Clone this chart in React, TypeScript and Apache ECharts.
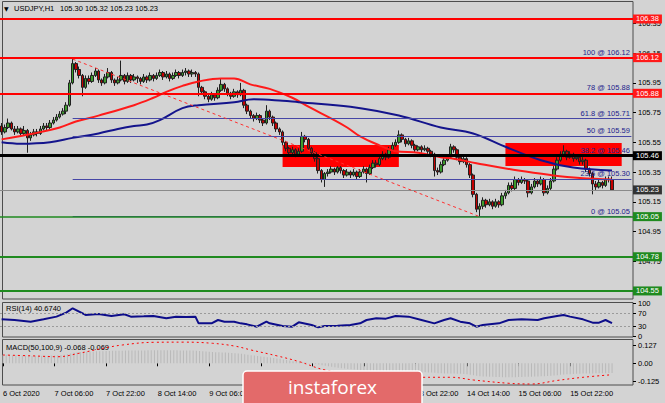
import React, { useEffect, useRef } from 'react';
import * as echarts from 'echarts';

const FONT = "'Liberation Sans', Arial, sans-serif";

// ---- price data (H1 candles, open = previous close) ----
const firstOpen = 105.66;
const closes = [
  105.62,105.65,105.68,105.64,105.62,105.64,105.61,105.63,105.58,105.60,
  105.62,105.61,105.64,105.66,105.65,105.68,105.70,105.72,105.74,105.76,
  105.80,105.95,106.08,106.04,106.00,105.92,105.98,105.96,106.00,106.03,
  105.97,105.95,105.99,106.02,105.97,105.95,105.97,106.00,105.96,106.00,
  105.97,105.99,105.98,105.96,105.99,105.97,106.00,105.98,106.00,106.02,
  105.99,106.01,105.98,106.00,106.02,106.00,106.02,106.03,106.01,106.02,
  106.01,105.92,105.89,105.86,105.84,105.87,105.85,105.90,105.94,105.91,
  105.88,105.86,105.89,105.87,105.90,105.80,105.76,105.73,105.71,105.73,
  105.70,105.68,105.76,105.72,105.68,105.64,105.62,105.55,105.51,105.48,
  105.50,105.47,105.49,105.59,105.57,105.51,105.48,105.44,105.36,105.30,
  105.34,105.35,105.37,105.35,105.38,105.36,105.33,105.35,105.33,105.35,
  105.32,105.35,105.37,105.34,105.38,105.41,105.40,105.44,105.47,105.45,
  105.50,105.53,105.55,105.60,105.57,105.54,105.56,105.53,105.50,105.52,
  105.50,105.51,105.49,105.47,105.36,105.35,105.40,105.43,105.45,105.52,
  105.50,105.45,105.42,105.44,105.40,105.33,105.20,105.10,105.12,105.16,
  105.13,105.15,105.12,105.15,105.13,105.19,105.21,105.26,105.24,105.30,
  105.28,105.30,105.29,105.21,105.25,105.29,105.27,105.30,105.21,105.24,
  105.29,105.37,105.43,105.47,105.49,105.45,105.47,105.44,105.45,105.42,
  105.43,105.37,105.34,105.27,105.25,105.28,105.26,105.30,105.30,105.23,
];
const lows = [
  105.60,105.61,105.64,105.63,105.60,105.61,105.59,105.60,105.48,105.56,
  105.59,105.59,105.60,105.63,105.63,105.64,105.67,105.69,105.71,105.73,
  105.74,105.79,105.94,106.02,105.98,105.86,105.91,105.94,105.95,105.99,
  105.95,105.93,105.94,105.98,105.95,105.93,105.94,105.96,105.94,105.95,
  105.95,105.96,105.95,105.94,105.95,105.95,105.96,105.96,105.97,105.99,
  105.97,105.98,105.96,105.97,105.99,105.98,105.99,106.00,105.99,105.99,
  105.99,105.86,105.87,105.84,105.82,105.83,105.83,105.84,105.89,105.89,
  105.86,105.84,105.85,105.85,105.86,105.78,105.74,105.71,105.69,105.70,
  105.68,105.66,105.67,105.70,105.66,105.62,105.60,105.53,105.49,105.46,
  105.46,105.45,105.46,105.48,105.55,105.50,105.46,105.42,105.34,105.28,
  105.25,105.32,105.34,105.33,105.34,105.34,105.31,105.32,105.31,105.32,
  105.30,105.31,105.34,105.28,105.33,105.37,105.38,105.39,105.43,105.43,
  105.44,105.49,105.52,105.54,105.55,105.52,105.53,105.51,105.48,105.49,
  105.48,105.49,105.47,105.45,105.32,105.33,105.34,105.39,105.42,105.44,
  105.48,105.43,105.40,105.41,105.38,105.31,105.18,105.08,105.05,105.10,
  105.11,105.12,105.10,105.11,105.11,105.12,105.17,105.20,105.22,105.23,
  105.26,105.27,105.27,105.18,105.20,105.24,105.25,105.26,105.19,105.20,
  105.23,105.28,105.36,105.42,105.45,105.43,105.44,105.42,105.43,105.40,
  105.40,105.35,105.32,105.20,105.23,105.24,105.24,105.25,105.28,105.23,
];
const highs = [
  105.68,105.67,105.71,105.69,105.66,105.66,105.65,105.66,105.64,105.62,
  105.64,105.64,105.66,105.68,105.68,105.70,105.72,105.74,105.76,105.78,
  105.82,105.97,106.11,106.09,106.06,106.01,106.00,106.00,106.02,106.05,
  106.04,105.98,106.01,106.05,106.03,105.98,105.99,106.10,106.01,106.02,
  106.01,106.01,106.00,105.99,106.01,106.00,106.02,106.01,106.02,106.04,
  106.03,106.03,106.02,106.02,106.04,106.03,106.04,106.05,106.04,106.04,
  106.03,106.02,105.93,105.90,105.87,105.89,105.88,105.92,105.98,105.95,
  105.92,105.89,105.91,105.90,105.95,105.91,105.81,105.77,105.74,105.75,
  105.74,105.71,105.80,105.77,105.73,105.69,105.65,105.63,105.56,105.52,
  105.52,105.51,105.51,105.62,105.60,105.58,105.52,105.49,105.45,105.37,
  105.35,105.37,105.39,105.38,105.39,105.39,105.37,105.37,105.36,105.37,
  105.36,105.37,105.39,105.38,105.40,105.43,105.43,105.46,105.49,105.48,
  105.52,105.55,105.57,105.63,105.61,105.58,105.58,105.57,105.54,105.53,
  105.53,105.53,105.52,105.50,105.48,105.38,105.42,105.45,105.47,105.54,
  105.53,105.51,105.46,105.47,105.45,105.41,105.34,105.21,105.14,105.18,
  105.17,105.17,105.16,105.17,105.16,105.21,105.23,105.28,105.28,105.32,
  105.31,105.32,105.31,105.30,105.27,105.31,105.30,105.32,105.31,105.26,
  105.31,105.39,105.45,105.49,105.53,105.50,105.49,105.48,105.47,105.46,
  105.45,105.44,105.38,105.35,105.29,105.30,105.29,105.32,105.32,105.32,
];

// moving averages: [bar index, price]
const redMA = [
  [0,105.57],[10,105.61],[18,105.65],[23,105.69],[30,105.73],[41,105.80],[47,105.85],
  [51,105.89],[56,105.93],[61,105.96],[68,105.98],[72,105.98],[77,105.94],[83,105.91],
  [90,105.85],[95,105.79],[103,105.70],[107,105.65],[111,105.59],[117,105.53],[122,105.49],
  [129,105.48],[136,105.45],[140,105.44],[147,105.41],[160,105.36],[170,105.33],[179,105.31],[189,105.30],
];
const blueMA = [
  [0,105.55],[6,105.54],[15,105.55],[22,105.58],[30,105.61],[36,105.64],[41,105.66],
  [45,105.67],[49,105.70],[56,105.78],[61,105.80],[72,105.82],[78,105.84],[87,105.83],
  [92,105.82],[108,105.79],[123,105.73],[136,105.65],[146,105.61],[156,105.52],
  [167,105.43],[177,105.38],[189,105.36],
];

// RSI(14): [bar index, value]
const rsi = [
  [0,52],[4,50],[9,45],[13,52],[17,60],[20,72],[22,85],[24,75],[26,65],[30,68],[34,62],
  [38,67],[40,60],[44,61],[47,62],[51,55],[54,60],[57,59],[60,60],[61,40],[65,40],[67,50],
  [69,45],[72,45],[74,40],[76,37],[79,30],[82,45],[83,40],[87,32],[90,30],[92,43],[96,35],
  [98,28],[100,32],[104,33],[108,35],[111,40],[113,50],[116,55],[119,54],[122,62],[126,60],
  [130,50],[134,40],[137,50],[139,55],[142,45],[145,40],[147,30],[149,35],[154,40],[157,50],
  [161,52],[166,50],[168,55],[172,62],[174,65],[176,60],[180,52],[183,42],[185,42],[187,50],[189,40.67],
];

// MACD(50,100,9) histogram (main) per bar
const macdMain = [
  0.060,0.059,0.058,0.057,0.056,0.055,0.054,0.053,0.052,0.051,
  0.051,0.051,0.052,0.052,0.053,0.054,0.055,0.056,0.058,0.060,
  0.064,0.069,0.074,0.077,0.079,0.080,0.081,0.082,0.083,0.084,
  0.085,0.085,0.086,0.086,0.087,0.087,0.088,0.088,0.089,0.089,
  0.089,0.090,0.090,0.090,0.090,0.091,0.091,0.091,0.091,0.091,
  0.091,0.091,0.091,0.091,0.091,0.090,0.090,0.090,0.090,0.089,
  0.088,0.086,0.084,0.082,0.080,0.079,0.078,0.077,0.076,0.075,
  0.074,0.072,0.070,0.068,0.066,0.063,0.060,0.057,0.054,0.051,
  0.048,0.045,0.043,0.040,0.037,0.034,0.031,0.027,0.023,0.019,
  0.015,0.012,0.009,0.007,0.005,0.002,-0.001,-0.004,-0.008,-0.013,
  -0.017,-0.021,-0.025,-0.028,-0.031,-0.034,-0.037,-0.040,-0.042,-0.044,
  -0.046,-0.048,-0.050,-0.051,-0.052,-0.053,-0.054,-0.054,-0.055,-0.055,
  -0.055,-0.055,-0.055,-0.055,-0.056,-0.057,-0.058,-0.059,-0.060,-0.061,
  -0.062,-0.063,-0.064,-0.065,-0.067,-0.069,-0.070,-0.071,-0.071,-0.071,
  -0.072,-0.073,-0.074,-0.075,-0.077,-0.080,-0.083,-0.087,-0.090,-0.092,
  -0.093,-0.094,-0.095,-0.096,-0.096,-0.097,-0.097,-0.097,-0.097,-0.097,
  -0.096,-0.096,-0.095,-0.095,-0.094,-0.093,-0.092,-0.091,-0.090,-0.089,
  -0.087,-0.085,-0.083,-0.081,-0.079,-0.077,-0.076,-0.075,-0.074,-0.073,
  -0.072,-0.072,-0.071,-0.071,-0.070,-0.070,-0.069,-0.069,-0.068,-0.068,
];
const macdSignal = [
  [0,0.058],[9,0.052],[17,0.046],[24,0.072],[30,0.100],[37,0.128],[47,0.147],[56,0.148],
  [65,0.140],[72,0.120],[77,0.093],[85,0.052],[92,0.011],[100,-0.047],[110,-0.070],
  [120,-0.085],[130,-0.098],[139,-0.098],[146,-0.117],[157,-0.140],[164,-0.145],
  [172,-0.120],[180,-0.098],[189,-0.080],
];

// axis labels
const timeTicks = [
  '6 Oct 2020','7 Oct 06:00','7 Oct 22:00','8 Oct 14:00','9 Oct 06:00','9 Oct 22:00',
  '12 Oct 14:00','13 Oct 06:00','13 Oct 22:00','14 Oct 14:00','15 Oct 06:00','15 Oct 22:00',
];
const priceTicks = [104.75,104.95,105.15,105.35,105.55,105.75,105.95,106.15,106.35];
const rsiTicks = [0,30,70,100];
const macdTicks = [-0.125,0,0.127];

// drawn objects
const redLevels = [106.38,106.12,105.88];
const blackLevel = 105.46;
const bidLevel = 105.23;
const greenLevels = [105.05,104.78,104.55];
const fibStart = 22;
const fibLevels = [
  { pct: '100', price: 106.12 },
  { pct: '78', price: 105.88 },
  { pct: '61.8', price: 105.71 },
  { pct: '50', price: 105.59 },
  { pct: '38.2', price: 105.46 },
  { pct: '23.6', price: 105.30 },
  { pct: '0', price: 105.05 },
];
const zones = [
  { from: 87, to: 123, top: 105.532, bottom: 105.384 },
  { from: 156, to: 192, top: 105.546, bottom: 105.391 },
];
const trendFrom = [22, 106.11];
const trendTo = [148, 105.05];

const SLOTS = 196;

function buildOption() {
  const cats = Array.from({ length: SLOTS }, (_, i) => String(i));
  const candles = closes.map((c, i) => [i === 0 ? firstOpen : closes[i - 1], c, lows[i], highs[i]]);
  const axisText = { color: '#000', fontSize: 7.5, fontFamily: FONT };
  const tickInterval = (i: number) => i % 16 === 0 && i / 16 < timeTicks.length;

  const xAxes = [0, 1, 2].map((g) => ({
    type: 'category',
    gridIndex: g,
    data: cats,
    boundaryGap: true,
    axisLine: { show: false },
    axisTick: g === 2
      ? { show: true, alignWithLabel: true, interval: tickInterval, length: 3, lineStyle: { color: '#000' } }
      : { show: false },
    axisLabel: g === 2
      ? { show: true, interval: tickInterval, formatter: (_v: string, i: number) => timeTicks[i / 16] ?? '', align: 'left', margin: 4, ...axisText }
      : { show: false },
    splitLine: { show: false },
  }));

  const boxLabel = (txt: string, bg: string) => ({
    show: true, position: 'end', formatter: txt, color: '#fff', backgroundColor: bg,
    padding: [1, 3, 0, 3], fontSize: 7.5, fontFamily: FONT, distance: 0,
  });

  const levelLines: any[] = [];
  fibLevels.forEach((f) => {
    levelLines.push([
      {
        coord: [fibStart, f.price],
        lineStyle: { color: '#4646a6', width: 1, type: 'solid' },
        label: { show: true, position: 'insideEndTop', formatter: `${f.pct} @ ${f.price.toFixed(2)}`, color: '#22228c', fontSize: 7.5, fontFamily: FONT, distance: 1.5 },
      },
      { coord: [SLOTS - 1, f.price] },
    ]);
  });
  redLevels.forEach((p) => levelLines.push({ yAxis: p, lineStyle: { color: '#ff0000', width: 2, type: 'solid' }, label: boxLabel(p.toFixed(2), '#ff1a1a') }));
  levelLines.push({ yAxis: blackLevel, lineStyle: { color: '#000', width: 3, type: 'solid' }, label: boxLabel(blackLevel.toFixed(2), '#000') });
  levelLines.push({ yAxis: bidLevel, lineStyle: { color: '#8a8a8a', width: 1, type: 'solid' }, label: boxLabel(bidLevel.toFixed(2), '#333') });
  greenLevels.forEach((p, k) => levelLines.push({ yAxis: p, lineStyle: { color: '#1f8a1f', width: k === 0 ? 1.5 : 2, type: 'solid' }, label: boxLabel(p.toFixed(2), '#1f8a1f') }));
  levelLines.push([
    { coord: trendFrom, lineStyle: { color: '#ff3030', width: 1, type: [3, 3] }, label: { show: false } },
    { coord: trendTo },
  ]);

  return {
    animation: false,
    backgroundColor: '#d3d3d3',
    textStyle: { fontFamily: FONT },
    grid: [
      { left: 0, top: 1, width: 633, height: 298 },
      { left: 0, top: 302, width: 633, height: 35 },
      { left: 0, top: 339, width: 633, height: 46 },
    ],
    xAxis: xAxes,
    yAxis: [
      {
        type: 'value', gridIndex: 0, position: 'right', min: 104.4958, max: 106.5011,
        axisLine: { show: false }, splitLine: { show: false },
        axisTick: { show: true, customValues: priceTicks, length: 3, lineStyle: { color: '#000' } },
        axisLabel: { customValues: priceTicks, formatter: (v: number) => v.toFixed(2), margin: 5, ...axisText },
      },
      {
        type: 'value', gridIndex: 1, position: 'right', min: -0.75, max: 103.7,
        axisLine: { show: false }, splitLine: { show: false },
        axisTick: { show: true, customValues: rsiTicks, length: 3, lineStyle: { color: '#000' } },
        axisLabel: {
          customValues: rsiTicks, margin: 5, ...axisText,
          showMinLabel: true, showMaxLabel: true, hideOverlap: false,
          formatter: (v: number) => String(v),
        },
      },
      {
        type: 'value', gridIndex: 2, position: 'right', min: -0.152, max: 0.17,
        axisLine: { show: false }, splitLine: { show: false },
        axisTick: { show: true, customValues: macdTicks, length: 3, lineStyle: { color: '#000' } },
        axisLabel: { customValues: macdTicks, formatter: (v: number) => (v === 0 ? '0.00' : String(v)), margin: 5, ...axisText },
      },
    ],
    series: [
      {
        type: 'candlestick', xAxisIndex: 0, yAxisIndex: 0, data: candles, barWidth: 3, z: 3, silent: true,
        itemStyle: { color: '#3c9c2c', color0: '#c40000', borderColor: '#202020', borderColor0: '#202020', borderWidth: 1 },
        markArea: {
          silent: true,
          itemStyle: { color: '#ff0000' },
          data: zones.map((z) => [{ coord: [z.from, z.top] }, { coord: [z.to, z.bottom] }]),
        },
        markLine: { silent: true, symbol: ['none', 'none'], animation: false, label: { show: false }, data: levelLines },
      },
      {
        type: 'line', xAxisIndex: 0, yAxisIndex: 0, data: redMA, smooth: 0.4, symbol: 'none', z: 4, silent: true,
        lineStyle: { color: '#ff1a1a', width: 2 },
      },
      {
        type: 'line', xAxisIndex: 0, yAxisIndex: 0, data: blueMA, smooth: 0.4, symbol: 'none', z: 4, silent: true,
        lineStyle: { color: '#14148c', width: 2 },
      },
      {
        type: 'line', xAxisIndex: 1, yAxisIndex: 1, data: rsi, symbol: 'none', silent: true,
        lineStyle: { color: '#0d0d8a', width: 2 },
        markLine: {
          silent: true, symbol: ['none', 'none'], label: { show: false }, animation: false,
          lineStyle: { color: '#9a9a9a', type: [2, 2], width: 1 },
          data: [{ yAxis: 70 }, { yAxis: 30 }],
        },
      },
      {
        type: 'bar', xAxisIndex: 2, yAxisIndex: 2, data: macdMain, barWidth: 1, silent: true,
        itemStyle: { color: '#b9b9b9' },
      },
      {
        type: 'line', xAxisIndex: 2, yAxisIndex: 2, data: macdSignal, smooth: 0.4, symbol: 'none', silent: true,
        lineStyle: { color: '#ff0000', width: 1, type: [2, 3] },
      },
    ],
    graphic: [
      { type: 'rect', silent: true, shape: { x: 2.5, y: 1.5, width: 630.5, height: 297.5 }, style: { fill: 'none', stroke: '#4d4d4d', lineWidth: 1 } },
      { type: 'rect', silent: true, shape: { x: 2.5, y: 302.5, width: 630.5, height: 34.5 }, style: { fill: 'none', stroke: '#4d4d4d', lineWidth: 1 } },
      { type: 'rect', silent: true, shape: { x: 2.5, y: 339.5, width: 630.5, height: 45.5 }, style: { fill: 'none', stroke: '#4d4d4d', lineWidth: 1 } },
      { type: 'text', silent: true, x: 4, y: 8, style: { text: '▼', fill: '#000', font: "6px 'DejaVu Sans'", verticalAlign: 'middle' } },
      { type: 'text', silent: true, x: 14, y: 8, style: { text: 'USDJPY,H1', fill: '#000', font: "7.5px 'Liberation Sans'", verticalAlign: 'middle' } },
      { type: 'text', silent: true, x: 60, y: 8, style: { text: '105.30 105.32 105.23 105.23', fill: '#000', font: "7.5px 'Liberation Sans'", verticalAlign: 'middle' } },
      { type: 'text', silent: true, x: 6, y: 308, style: { text: 'RSI(14) 40.6740', fill: '#000', font: "7.5px 'Liberation Sans'", verticalAlign: 'middle' } },
      { type: 'text', silent: true, x: 6, y: 347, style: { text: 'MACD(50,100,9) -0.068 -0.069', fill: '#000', font: "7.5px 'Liberation Sans'", verticalAlign: 'middle' } },
      {
        type: 'group', z: 100,
        children: [
          { type: 'rect', z: 100, silent: true, shape: { x: 243, y: 371, width: 179, height: 40, r: 4 }, style: { fill: '#e36a6a', stroke: '#ffffff', lineWidth: 1.5 } },
          { type: 'text', z: 101, silent: true, x: 332.5, y: 387, style: { text: 'instaforex', fill: '#ffffff', font: "19px 'Open Sans'", align: 'center', verticalAlign: 'middle' } },
        ],
      },
    ],
  };
}

export default function App() {
  const ref = useRef<HTMLDivElement>(null);
  useEffect(() => {
    document.body.style.margin = '0';
    const chart = echarts.init(ref.current!, null, { renderer: 'svg' });
    chart.setOption(buildOption() as any);
    return () => chart.dispose();
  }, []);
  return <div ref={ref} style={{ width: 665, height: 403, position: 'fixed', left: 0, top: 0 }} />;
}
